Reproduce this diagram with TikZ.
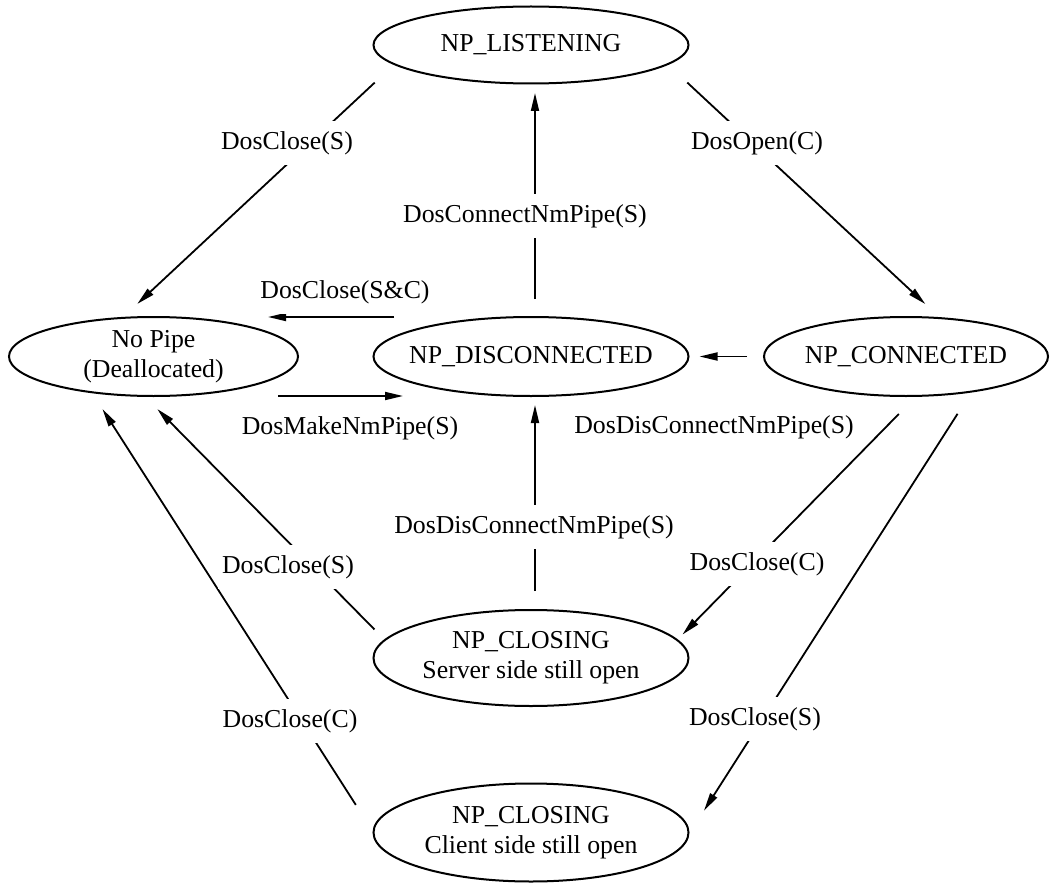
\documentclass[tikz,border=0pt]{standalone}
\usepackage{fontspec}
\setmainfont{Liberation Serif}
\usetikzlibrary{shapes.geometric, arrows.meta}

\begin{document}
\begin{tikzpicture}[x=0.5pt, y=-0.5pt,
  every node/.style={font=\fontsize{12.9}{15}\selectfont},
  state/.style={draw, ellipse, line width=1pt, inner xsep=-60pt, inner ysep=0pt, outer sep=0pt, align=center},
  trans/.style={line width=0.9pt, -{Triangle[length=9pt, width=4pt]}},
  lbl/.style={fill=white, inner xsep=2pt, inner ysep=5pt}]

\useasboundingbox (0,0) rectangle (1055,883);

% States (ellipses)
\node[state, minimum width=157.5pt, minimum height=38.5pt] (listen)   at (531,45)    {NP\_LISTENING};
\node[state, minimum width=144.5pt, minimum height=39.5pt] (nopipe)   at (153.5,356.5) {No Pipe\\(Deallocated)};
\node[state, minimum width=157.5pt, minimum height=39.5pt] (disconn)  at (531,356.5) {NP\_DISCONNECTED};
\node[state, minimum width=142pt,   minimum height=39.5pt] (conn)     at (906,356.5) {NP\_CONNECTED};
\node[state, minimum width=157.5pt, minimum height=48pt]   (srvclose) at (531,658)   {NP\_CLOSING\\Server side still open};
\node[state, minimum width=157.5pt, minimum height=49pt]   (cliclose) at (531,832.5) {NP\_CLOSING\\Client side still open};

% Transitions
\draw[trans, shorten <=13.5pt, shorten >=10.25pt] (listen.188) -- (nopipe.129);    % DosClose(S)
\draw[trans, shorten <=13.5pt, shorten >=10.4pt]  (listen.352) -- (conn.48);        % DosOpen(C)
\draw[trans, shorten <=9pt, shorten >=4.75pt] ([xshift=2pt]disconn.north) -- ([xshift=2pt]listen.south);   % connect
\draw[trans, shorten <=9.5pt, shorten >=4.5pt] ([xshift=2pt]srvclose.north) -- ([xshift=2pt]disconn.south); % disconnect
\draw[trans, shorten <=8.5pt, shorten >=5.5pt] (conn.west) -- (disconn.east);     % disconnect
\draw[trans] ([xshift=-68.5pt]disconn.north) -- ([xshift=57.25pt]nopipe.north);   % DosClose(S&C)
\draw[trans] ([xshift=62.25pt]nopipe.south) -- ([xshift=-64pt]disconn.south);     % DosMakeNmPipe(S)
\draw[trans, shorten <=16.4pt, shorten >=10pt]   (cliclose.180) -- (nopipe.210);  % DosClose(C)
\draw[trans, shorten <=7.5pt, shorten >=9.2pt]   (srvclose.173) -- (nopipe.257);  % DosClose(S)
\draw[trans, shorten <=12.65pt, shorten >=3.9pt] (conn.285) -- (srvclose.7);      % DosClose(C)
\draw[trans, shorten <=13.25pt, shorten >=14.65pt] (conn.332) -- (cliclose.359); % DosClose(S)

% Labels (white boxes cut the lines)
\foreach \x/\y/\name/\txt in {287/143/l-lsnp/DosClose(S), 757/143/l-lscn/DosOpen(C),
    525/216/l-dcls/DosConnectNmPipe(S), 345/292/l-dcnp/DosClose(S\&C),
    350/428/l-npdc/DosMakeNmPipe(S), 714/427/l-cndc/DosDisConnectNmPipe(S),
    534/527/l-scdc/DosDisConnectNmPipe(S), 288/567/l-scnp/DosClose(S),
    757/564/l-cnsc/DosClose(C), 290/721/l-ccnp/DosClose(C), 755/719/l-cncc/DosClose(S)} {
    \node[lbl] (\name) at (\x,\y) {\txt};
}

\end{tikzpicture}
\end{document}
